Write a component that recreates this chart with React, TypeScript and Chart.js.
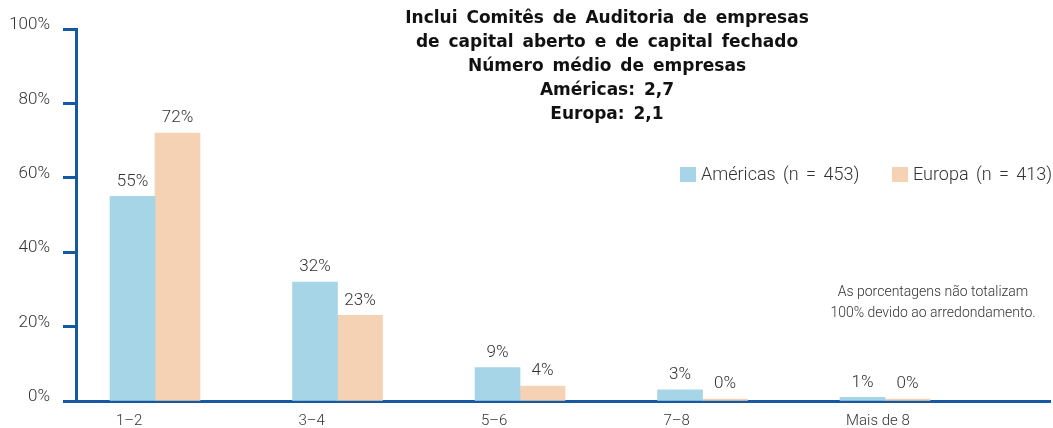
import React, { useEffect, useRef } from "react";
import { Chart, registerables } from "chart.js";

Chart.register(...registerables);

const categories = ["1–2", "3–4", "5–6", "7–8", "Mais de 8"];
const americasValues = [55, 32, 9, 3, 1];
const europaValues = [72, 23, 4, 0, 0];
const seriesNames = ["Américas (n = 453)", "Europa (n = 413)"];
const yTicks = [0, 20, 40, 60, 80, 100];
const titleLines = [
  "Inclui Comitês de Auditoria de empresas",
  "de capital aberto e de capital fechado",
  "Número médio de empresas",
  "Américas: 2,7",
  "Europa: 2,1",
];
const noteLines = ["As porcentagens não totalizam", "100% devido ao arredondamento."];

const AXIS = "#1559a3";
const TEXT = "#333333";
const BLUE = "#a7d5e8";
const PEACH = "#f5d2b4";
const LIGHT = "300 17px Roboto, 'Liberation Sans', sans-serif";

const overlay = {
  id: "overlay",
  afterDraw(chart: any) {
    const ctx = chart.ctx as CanvasRenderingContext2D;
    const xs = chart.scales.x;
    ctx.save();
    // data labels
    ctx.fillStyle = TEXT;
    ctx.font = LIGHT;
    ctx.textAlign = "center";
    ctx.textBaseline = "middle";
    chart.data.datasets.forEach((ds: any, di: number) => {
      const meta = chart.getDatasetMeta(di);
      meta.data.forEach((el: any, i: number) => {
        const v = ds.data[i].y;
        ctx.fillText(v + "%", el.x, el.y - 15);
      });
    });
    // x labels
    ctx.font = "300 15px Roboto, 'Liberation Sans', sans-serif";
    ctx.textAlign = "left";
    categories.forEach((c, i) => {
      const px = xs.getPixelForValue(i);
      ctx.fillText(c, px - 45 + 6, 421);
    });
    // title
    ctx.font = "bold 17px 'DejaVu Sans', 'Liberation Sans', sans-serif";
    ctx.fillStyle = "#111111";
    ctx.textAlign = "center";
    (ctx as any).wordSpacing = "3px";
    titleLines.forEach((t, i) => {
      ctx.fillText(t, 607, 19 + i * 24);
    });
    (ctx as any).wordSpacing = "0px";
    // legend
    ctx.font = "300 18px Roboto, 'Liberation Sans', sans-serif";
    ctx.textAlign = "left";
    (ctx as any).wordSpacing = "3px";
    const legendX = [680, 892];
    chart.data.datasets.forEach((ds: any, di: number) => {
      ctx.fillStyle = ds.backgroundColor;
      ctx.fillRect(legendX[di], 167, 16, 15);
      ctx.fillStyle = TEXT;
      ctx.fillText(ds.label, legendX[di] + 21, 175);
    });
    (ctx as any).wordSpacing = "0px";
    // note
    ctx.font = "300 14px Roboto, 'Liberation Sans', sans-serif";
    ctx.textAlign = "center";
    noteLines.forEach((t, i) => ctx.fillText(t, 933, 292 + i * 21));
    ctx.restore();
  },
};

export default function App() {
  const ref = useRef<HTMLCanvasElement | null>(null);
  useEffect(() => {
    if (!ref.current) return;
    const chart = new Chart(ref.current, {
      type: "bar",
      data: {
        datasets: [
          {
            label: seriesNames[0],
            data: americasValues.map((v, i) => ({ x: i, y: v })),
            backgroundColor: BLUE,
            barThickness: 45,
            minBarLength: 2,
          },
          {
            label: seriesNames[1],
            data: europaValues.map((v, i) => ({ x: i, y: v })),
            backgroundColor: PEACH,
            barThickness: 45,
            minBarLength: 2,
          },
        ],
      },
      options: {
        responsive: false,
        animation: false,
        layout: { padding: { top: 29, right: 3, left: 0, bottom: 0 } },
        plugins: { legend: { display: false }, tooltip: { enabled: false }, title: { display: false } },
        scales: {
          x: {
            type: "linear",
            min: -0.433,
            max: 4.904,
            offset: false,
            grid: { display: false },
            ticks: { display: false },
            border: { display: true, color: AXIS, width: 3 },
            afterFit: (s: any) => {
              s.height = 27;
            },
          },
          y: {
            min: 0,
            max: 100,
            afterBuildTicks: (s: any) => {
              s.ticks = yTicks.map((v) => ({ value: v }));
            },
            grid: {
              display: true,
              drawOnChartArea: false,
              drawTicks: true,
              tickLength: 13,
              tickWidth: 3,
              tickColor: AXIS,
            },
            border: { display: true, color: AXIS, width: 3 },
            ticks: {
              padding: 13,
              labelOffset: -4,
              color: TEXT,
              font: { family: "Roboto, 'Liberation Sans', sans-serif", size: 17, weight: "300" as any },
              callback: (v: any) => v + "%",
            },
            afterFit: (s: any) => {
              s.width = 76;
            },
          },
        },
      },
      plugins: [overlay],
    });
    return () => chart.destroy();
  }, []);
  return (
    <div style={{ position: "absolute", left: 0, top: 0, width: 1053, height: 428 }}>
      <canvas ref={ref} width={1053} height={428} style={{ display: "block" }} />
    </div>
  );
}
